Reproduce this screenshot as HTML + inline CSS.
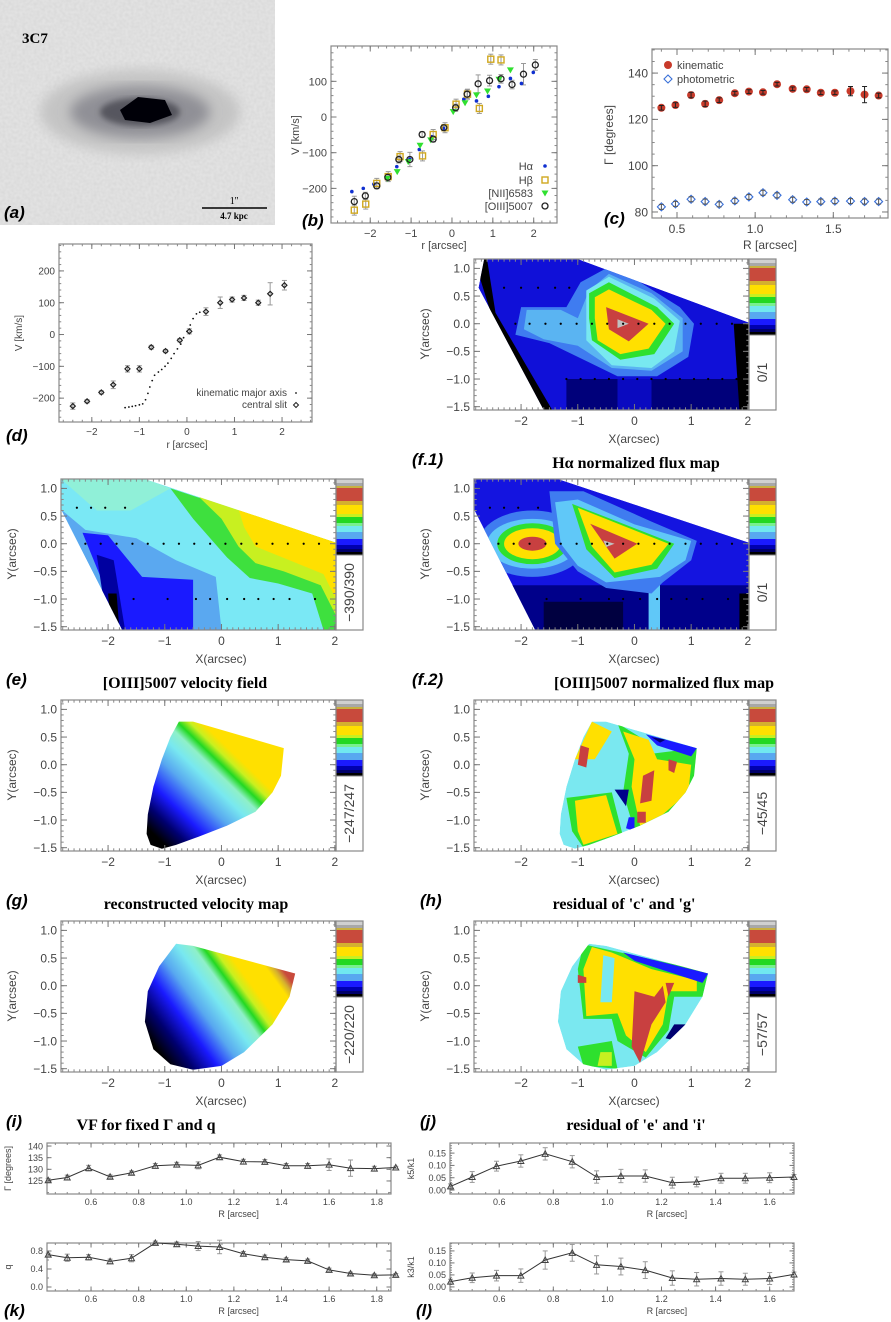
<!DOCTYPE html>
<html><head><meta charset="utf-8"><style>
html,body{margin:0;padding:0;background:#fff;width:891px;height:1322px;overflow:hidden}
svg{display:block}
text{font-family:"Liberation Sans",sans-serif;fill:#444}
.ttl{font-family:"Liberation Serif",serif;font-weight:bold;font-size:16px;fill:#000}
.pl{font-family:"Liberation Sans",sans-serif;font-weight:bold;font-style:italic;font-size:17px;fill:#000}
</style></head><body>
<svg id="fig" width="891" height="1322" viewBox="0 0 891 1322" xmlns="http://www.w3.org/2000/svg">
<defs>
<filter id="blur4"><feGaussianBlur stdDeviation="6"/></filter>
<filter id="blur2"><feGaussianBlur stdDeviation="3"/></filter>
<filter id="noise" x="0" y="0" width="100%" height="100%"><feTurbulence type="fractalNoise" baseFrequency="0.35" numOctaves="1" seed="3"/><feColorMatrix type="matrix" values="0 0 0 0 0.5  0 0 0 0 0.5  0 0 0 0 0.5  1.2 0 0 0 -0.35"/></filter>
</defs>
<g>
<rect x="0" y="0" width="275" height="225" fill="#e2e2e2"/>
<rect x="0" y="0" width="275" height="225" filter="url(#noise)" opacity="0.35"/>
<ellipse cx="140" cy="112" rx="100" ry="42" fill="#c4c4c4" filter="url(#blur4)"/>
<ellipse cx="140" cy="112" rx="70" ry="26" fill="#909096" filter="url(#blur4)"/>
<ellipse cx="140" cy="112" rx="40" ry="14" fill="#56565e" filter="url(#blur2)"/>
<polygon points="120,110 138,97 165,100 172,115 150,123 125,120" fill="#000008"/>
<text x="22" y="43" style="font-family:'Liberation Serif',serif;font-weight:bold;font-size:15px;fill:#000">3C7</text>
<line x1="202" y1="208" x2="267" y2="208" stroke="#000" stroke-width="1.5"/>
<text x="234" y="204" text-anchor="middle" style="font-family:'Liberation Serif',serif;font-size:10px;fill:#000">1''</text>
<text x="234" y="219" text-anchor="middle" style="font-family:'Liberation Serif',serif;font-weight:bold;font-size:9px;fill:#000">4.7 kpc</text>
<text x="4" y="218" class="pl">(a)</text>
</g>
</svg>
<script>
// ---------- data ----------
const bHaR=[-2.45,-2.17,-1.91,-1.35,-1.03,-0.8,-0.5,-0.21,0.29,0.6,0.89,1.15,1.43,1.7,1.99];
const bHaV=[-209,-200,-188,-139,-118,-91,-55,-32,50,45,58,85,108,94,125];
const bHbR=[-2.39,-2.11,-1.84,-1.56,-1.27,-0.72,-0.46,-0.17,0.1,0.38,0.67,0.95,1.2];
const bHbV=[-261,-244,-186,-167,-111,-109,-49,-30,36,64,24,162,160];
const bNiiR=[-1.58,-1.34,-1.07,-0.78,-0.52,0.03,0.32,0.6,0.87,1.15,1.43];
const bNiiV=[-172,-153,-125,-79,-64,15,40,62,73,106,132];
const bOiiiR=[-2.39,-2.12,-1.84,-1.57,-1.3,-1.03,-0.73,-0.46,-0.2,0.09,0.37,0.64,0.92,1.2,1.47,1.75,2.04];
const bOiiiV=[-237,-221,-193,-169,-119,-119,-49,-62,-30,26,64,93,102,107,91,120,146];
const bOiiiErr=[15,10,8,10,10,20,8,8,5,10,12,25,15,12,12,30,15];
const cR=[0.4,0.49,0.59,0.68,0.77,0.87,0.96,1.05,1.14,1.24,1.33,1.42,1.51,1.61,1.7,1.79];
const cKin=[125,126.2,130.5,126.7,128.3,131.3,132,131.7,135.2,133.2,133,131.5,131.5,132.2,130.7,130.3];
const cKinErr=[1,1,1.2,1.2,1,0.8,0.8,0.8,0.8,0.8,0.8,0.8,0.8,2,3.5,1];
const cPhot=[82.2,83.5,85.5,84.5,83.3,84.8,86.5,88.3,87.2,85.3,84.3,84.5,84.7,84.7,84.5,84.5];
const dSlitR=[-2.4,-2.1,-1.8,-1.55,-1.25,-1.0,-0.75,-0.45,-0.15,0.05,0.4,0.7,0.95,1.2,1.5,1.75,2.05];
const dSlitV=[-225,-210,-182,-158,-108,-108,-40,-52,-18,10,72,100,110,115,100,128,155];
const dSlitErr=[10,5,5,12,10,10,6,5,5,8,12,18,8,8,8,35,15];
const dKinR=[-1.3,-1.22,-1.15,-1.08,-1.0,-0.93,-0.87,-0.82,-0.78,-0.73,-0.68,-0.6,-0.53,-0.46,-0.4,-0.33,-0.27,-0.2,-0.13,-0.07,0.0,0.07,0.13,0.2,0.27];
const dKinV=[-230,-228,-226,-224,-221,-218,-205,-185,-165,-145,-128,-118,-110,-100,-90,-75,-60,-45,-30,-10,10,30,50,65,70];
const kR=[0.42,0.5,0.59,0.68,0.77,0.87,0.96,1.05,1.14,1.24,1.33,1.42,1.51,1.6,1.69,1.79,1.88];
const kGamma=[125.3,126.5,130.5,126.8,128.5,131.5,132,131.7,135.2,133.3,133.2,131.5,131.5,132,130.5,130.3,130.8];
const kGammaErr=[0.8,1,1.2,0.8,0.8,1,1,1.5,1,1,1,1,1,2.5,3.5,1,0.5];
const kQ=[0.72,0.65,0.66,0.57,0.64,0.98,0.95,0.91,0.89,0.74,0.66,0.61,0.58,0.38,0.3,0.26,0.27];
const kQErr=[0.03,0.08,0.06,0.05,0.08,0.04,0.05,0.1,0.15,0.05,0.05,0.04,0.04,0.04,0.03,0.03,0.03];
const lR=[0.42,0.5,0.59,0.68,0.77,0.87,0.96,1.05,1.14,1.24,1.33,1.42,1.51,1.6,1.69];
const lK5=[0.015,0.053,0.097,0.118,0.147,0.115,0.053,0.057,0.057,0.03,0.033,0.048,0.048,0.05,0.053];
const lK5Err=[0.01,0.022,0.02,0.025,0.025,0.025,0.025,0.027,0.025,0.022,0.02,0.02,0.02,0.02,0.01];
const lK3=[0.022,0.038,0.047,0.047,0.112,0.142,0.092,0.085,0.07,0.037,0.032,0.035,0.032,0.035,0.052];
const lK3Err=[0.01,0.02,0.022,0.028,0.038,0.035,0.038,0.035,0.035,0.03,0.028,0.028,0.025,0.025,0.01];

// ---------- helpers ----------
const NS='http://www.w3.org/2000/svg';
const svg=document.getElementById('fig');
function mk(tag,attrs,parent){const e=document.createElementNS(NS,tag);for(const k in attrs)e.setAttribute(k,attrs[k]);(parent||svg).appendChild(e);return e;}
function txt(s,x,y,attrs,parent){const t=mk('text',Object.assign({x:x,y:y},attrs),parent);t.textContent=s;return t;}
function fmt(v,d){return (v<0?'\u2212':'')+Math.abs(v).toFixed(d);}

function axes(name,L,T,R,B,x0,x1,y0,y1,xt,yt,xd,yd,fs,xmin,ymin,xlabOff){
  const g=mk('g',{});
  
  
  const sx=v=>L+(v-x0)/(x1-x0)*(R-L), sy=v=>B-(v-y0)/(y1-y0)*(B-T);
  mk('rect',{x:L,y:T,width:R-L,height:B-T,fill:'none',stroke:'#888','stroke-width':1.2},g);
  const tl=fs*0.5;
  if(xmin){for(let v=Math.ceil(x0/xmin)*xmin;v<=x1;v+=xmin){const x=sx(v);mk('line',{x1:x,y1:B,x2:x,y2:B-tl*0.45,stroke:'#888'},g);mk('line',{x1:x,y1:T,x2:x,y2:T+tl*0.45,stroke:'#888'},g);}}
  if(ymin){for(let v=Math.ceil(y0/ymin)*ymin;v<=y1;v+=ymin){const y=sy(v);mk('line',{x1:L,y1:y,x2:L+tl*0.45,y2:y,stroke:'#888'},g);mk('line',{x1:R,y1:y,x2:R-tl*0.45,y2:y,stroke:'#888'},g);}}
  const off=xlabOff||(fs+3);
  xt.forEach(v=>{const x=sx(v);mk('line',{x1:x,y1:B,x2:x,y2:B-tl,stroke:'#777'},g);mk('line',{x1:x,y1:T,x2:x,y2:T+tl,stroke:'#777'},g);
    const t=txt(fmt(v,xd),x,B+off,{'text-anchor':'middle','font-size':fs},g);
    
    });
  yt.forEach(v=>{const y=sy(v);mk('line',{x1:L,y1:y,x2:L+tl,y2:y,stroke:'#777'},g);mk('line',{x1:R,y1:y,x2:R-tl,y2:y,stroke:'#777'},g);
    const t=txt(fmt(v,yd),L-4,y+fs*0.36,{'text-anchor':'end','font-size':fs},g);
    
    });
  return {g,sx,sy};
}
function vlabel(s,x,y,fs,name){const t=txt(s,x,y,{'text-anchor':'middle','font-size':fs,transform:'rotate(-90 '+x+' '+y+')'});
  
  return t;}
function hlabel(s,x,y,fs,name){const t=txt(s,x,y,{'text-anchor':'middle','font-size':fs});
  
  return t;}
function plabel(s,x,y,name){const t=txt(s,x,y,{class:'pl'});
  
  }
function err(g,x,y1,y2,col){mk('line',{x1:x,y1:y1,x2:x,y2:y2,stroke:col||'#999'},g);mk('line',{x1:x-2.5,y1:y1,x2:x+2.5,y2:y1,stroke:col||'#999'},g);mk('line',{x1:x-2.5,y1:y2,x2:x+2.5,y2:y2,stroke:col||'#999'},g);}

// ---------- panel b ----------
(function(){
  const a=axes('panel-b-axes',331,46,557,223,-2.96,2.57,-297,199,[-2,-1,0,1,2],[-200,-100,0,100],0,0,11,0.2,20);
  vlabel('V [km/s]',299,135,11,'y-axis-title-b');
  hlabel('r [arcsec]',444,249,11,'x-axis-title-b');
  plabel('(b)',302,226,'panel-label-b');
  const g=mk('g',{});
  
  
  bOiiiR.forEach((r,i)=>{err(g,a.sx(r),a.sy(bOiiiV[i]+bOiiiErr[i]),a.sy(bOiiiV[i]-bOiiiErr[i]));});
  bHbR.forEach((r,i)=>{err(g,a.sx(r),a.sy(bHbV[i]+14),a.sy(bHbV[i]-14));});
  bHaR.forEach((r,i)=>{const p=mk('circle',{cx:a.sx(r),cy:a.sy(bHaV[i]),r:1.8,fill:'#1030d0'},g);
    
    });
  bHbR.forEach((r,i)=>{const p=mk('rect',{x:a.sx(r)-3,y:a.sy(bHbV[i])-3,width:6,height:6,fill:'none',stroke:'#d0a820','stroke-width':1.4},g);
    
    });
  bNiiR.forEach((r,i)=>{const x=a.sx(r),y=a.sy(bNiiV[i]);const p=mk('polygon',{points:(x-3.5)+','+(y-2.5)+' '+(x+3.5)+','+(y-2.5)+' '+x+','+(y+3.5),fill:'#30e030'},g);
    
    });
  bOiiiR.forEach((r,i)=>{const p=mk('circle',{cx:a.sx(r),cy:a.sy(bOiiiV[i]),r:3,fill:'none',stroke:'#222','stroke-width':1.3},g);
    
    });
  const leg=mk('g',{});
  
  
  txt('H\u03b1',533,170,{'text-anchor':'end','font-size':11},leg);
  mk('circle',{cx:545,cy:166,r:1.8,fill:'#1030d0'},leg);
  txt('H\u03b2',533,184,{'text-anchor':'end','font-size':11},leg);
  mk('rect',{x:542,y:177,width:6,height:6,fill:'none',stroke:'#d0a820','stroke-width':1.4},leg);
  txt('[NII]6583',533,197,{'text-anchor':'end','font-size':11},leg);
  mk('polygon',{points:'541.5,190.5 548.5,190.5 545,196.5',fill:'#30e030'},leg);
  txt('[OIII]5007',533,210,{'text-anchor':'end','font-size':11},leg);
  mk('circle',{cx:545,cy:206,r:3,fill:'none',stroke:'#222','stroke-width':1.3},leg);
})();

// ---------- panel c ----------
(function(){
  const a=axes('panel-c-axes',652,49,888,218,0.34,1.85,77.4,150.4,[0.5,1.0,1.5],[80,100,120,140],1,0,12,0.1,5);
  vlabel('\u0393 [degrees]',613,135,12,'y-axis-title-c');
  hlabel('R [arcsec]',770,249,12,'x-axis-title-c');
  plabel('(c)',604,224,'panel-label-c');
  const g=mk('g',{});
  
  
  cR.forEach((r,i)=>{const p=mk('circle',{cx:a.sx(r),cy:a.sy(cKin[i]),r:4,fill:'#c83a2a'},g);
    
    
    err(g,a.sx(r),a.sy(cKin[i]+cKinErr[i]),a.sy(cKin[i]-cKinErr[i]),'#222');});
  cR.forEach((r,i)=>{const x=a.sx(r),y=a.sy(cPhot[i]);const p=mk('polygon',{points:x+','+(y-4)+' '+(x+4)+','+y+' '+x+','+(y+4)+' '+(x-4)+','+y,fill:'none',stroke:'#3a70d8','stroke-width':1.1},g);
    
    
    err(g,x,y-2.5,y+2.5,'#555');});
  const leg=mk('g',{});
  
  
  mk('circle',{cx:668,cy:65,r:4,fill:'#c83a2a'},leg);
  txt('kinematic',677,69,{'font-size':11},leg);
  mk('polygon',{points:'668,75 672,79 668,83 664,79',fill:'none',stroke:'#3a70d8','stroke-width':1.1},leg);
  txt('photometric',677,83,{'font-size':11},leg);
})();

// ---------- panel d ----------
(function(){
  const a=axes('panel-d-axes',59,244,312,422,-2.69,2.63,-275,284.6,[-2,-1,0,1,2],[-200,-100,0,100,200],0,0,10,0.2,20);
  vlabel('V [km/s]',22,333,10,'y-axis-title-d');
  hlabel('r [arcsec]',187,448,10,'x-axis-title-d');
  plabel('(d)',6,441,'panel-label-d');
  const g=mk('g',{});
  
  
  dKinR.forEach((r,i)=>{const p=mk('circle',{cx:a.sx(r),cy:a.sy(dKinV[i]),r:0.9,fill:'#111'},g);
    
    });
  dSlitR.forEach((r,i)=>{const x=a.sx(r),y=a.sy(dSlitV[i]);err(g,x,a.sy(dSlitV[i]+dSlitErr[i]),a.sy(dSlitV[i]-dSlitErr[i]));
    const p=mk('polygon',{points:x+','+(y-2.5)+' '+(x+2.5)+','+y+' '+x+','+(y+2.5)+' '+(x-2.5)+','+y,fill:'none',stroke:'#222','stroke-width':1.2},g);
    
    });
  const leg=mk('g',{});
  
  
  txt('kinematic major axis',287,396,{'text-anchor':'end','font-size':10},leg);
  mk('circle',{cx:296,cy:393,r:0.9,fill:'#111'},leg);
  txt('central slit',287,408,{'text-anchor':'end','font-size':10},leg);
  mk('polygon',{points:'296,402.5 298.5,405 296,407.5 293.5,405',fill:'none',stroke:'#222'},leg);
})();

// ---------- map panels ----------
const CB=[['#d0d0d0',4],['#a8a8a8',3],['#c8b040',2],['#c84a3c',13],['#d4b030',4],['#ffe000',9],['#c8f020',3],['#22d822',6],['#78f090',3],['#70e8f0',6],['#58a8f0',7],['#1a1aff',6],['#0000b0',4],['#00006a',3],['#000',3]];
let clipId=0;
function mapPanel(name,L,T,lab,labX,title,titleX,cbText,draw){
  const R=L+275,B=T+151;
  const g=mk('g',{});
  
  
  const X=v=>L+(v+2.83)/4.85*275, Y=v=>T+(1.17-v)/2.73*151;
  const P=pts=>pts.map(p=>X(p[0]).toFixed(1)+','+Y(p[1]).toFixed(1)).join(' ');
  const id='clip'+(clipId++);
  const cp=mk('clipPath',{id:id},g);
  mk('rect',{x:L,y:T,width:275,height:151},cp);
  const content=mk('g',{'clip-path':'url(#'+id+')'},g);
  
  
  draw(content,X,Y,P);
  axes(name+'-axes',L,T,R,B,-2.83,2.02,-1.56,1.17,[-2,-1,0,1,2],[-1.5,-1.0,-0.5,0.0,0.5,1.0],0,1,12,0.1,0.1);
  vlabel('Y(arcsec)',L-45,T+75,12,'y-axis-title');
  hlabel('X(arcsec)',L+160,T+184,12,'x-axis-title');
  const cb=mk('g',{});
  
  
  let y=T;CB.forEach(c=>{mk('rect',{x:R,y:y,width:27,height:c[1]+0.3,fill:c[0]},cb);y+=c[1];});
  mk('rect',{x:R,y:T,width:27,height:151,fill:'none',stroke:'#888','stroke-width':1.2},cb);
  mk('line',{x1:R,y1:y,x2:R+27,y2:y,stroke:'#888'},cb);
  const cx=R+18,cy=(y+B)/2;
  const ct=txt(cbText,cx,cy,{'text-anchor':'middle','font-size':14,transform:'rotate(-90 '+cx+' '+cy+')'},cb);
  
  
  plabel(lab,labX,T+206,'panel-label');
  const tt=txt(title,titleX,T+209,{class:'ttl','text-anchor':'middle'});
  
  
}
function poly(g,P,pts,fill){return mk('polygon',{points:P(pts),fill:fill},g);}
function dots(g,X,Y,rows){rows.forEach(r=>r[1].forEach(x=>mk('circle',{cx:X(x),cy:Y(r[0]),r:1.1,fill:'#000'},g)));}
const DOM=[[-2.83,1.17],[-1.35,1.17],[2.02,0.02],[2.02,-1.56],[-1.75,-1.56],[-2.83,0.62]];
const DOMF=[[-2.65,1.17],[-1.0,1.17],[2.02,0.02],[2.02,-1.56],[-1.6,-1.56],[-2.75,0.65]];
const DOTROWS=[[0.65,[-2.55,-2.3,-2.05,-1.7]],[0,[-2.4,-2.13,-1.85,-1.57,-1.3,-1.02,-0.75,-0.48,-0.2,0.07,0.35,0.62,0.9,1.17,1.45,1.72]],[-1,[-1.55,-0.95,-0.45,-0.2,0.1,0.4,0.65,0.92,1.2,1.65]]];

mapPanel('panel-e-velocity-field',61,479,'(e)',6,'[OIII]5007 velocity field',185,'\u2212390/390',(g,X,Y,P)=>{
  const c=mk('clipPath',{id:'de'},g);poly(c,P,DOM,'#000');
  const h=mk('g',{'clip-path':'url(#de)'},g);
  poly(h,P,DOM,'#7ae8f5');
  poly(h,P,[[-2.83,1.17],[-1.35,1.17],[-0.9,1.0],[-1.6,0.6],[-2.2,0.6]],'#90f0d8');
  poly(h,P,[[-0.9,1.0],[2.02,0.02],[2.02,-1.56],[1.8,-1.56],[1.6,-0.9],[1.0,-0.72],[0.5,-0.62],[0.1,-0.25],[-0.5,0.45]],'#3ee03e');
  poly(h,P,[[-0.4,0.85],[2.02,0.02],[2.02,-1.3],[1.75,-0.75],[1.1,-0.5],[0.6,-0.35],[0.3,-0.05],[0.0,0.45]],'#c8f020');
  poly(h,P,[[0.3,0.62],[2.02,0.02],[2.02,-1.0],[1.8,-0.55],[1.2,-0.3],[0.6,-0.05],[0.4,0.3]],'#ffe000');
  poly(h,P,[[-2.83,0.62],[-2.4,0.25],[-1.5,0.1],[-0.8,-0.3],[-0.1,-0.6],[0.0,-1.56],[-1.75,-1.56]],'#5aa8f0');
  poly(h,P,[[-2.45,0.2],[-2.0,0.15],[-1.4,-0.6],[-0.5,-0.65],[-0.5,-1.56],[-1.75,-1.56]],'#1a1aff');
  poly(h,P,[[-2.2,-0.2],[-1.9,-0.3],[-1.7,-1.56],[-2.0,-1.56]],'#0000a0');
  poly(h,P,[[-2.0,-0.9],[-1.85,-0.9],[-1.8,-1.56],[-1.95,-1.56]],'#000');
  dots(h,X,Y,DOTROWS);
});
mapPanel('panel-f1-halpha-flux',474,259,'(f.1)',412,'H\u03b1 normalized flux map',636,'0/1',(g,X,Y,P)=>{
  const c=mk('clipPath',{id:'df1'},g);poly(c,P,DOMF,'#000');
  const h=mk('g',{'clip-path':'url(#df1)'},g);
  poly(h,P,DOMF,'#1010d8');
  poly(h,P,[[-2.83,1.17],[-2.6,1.17],[-2.45,0.2],[-1.45,-1.56],[-2.0,-1.56]],'#000');
  poly(h,P,[[-1.2,-1.0],[2.02,-1.0],[2.02,-1.56],[-1.2,-1.56]],'#00007a');
  poly(h,P,[[1.75,0.0],[2.02,0.0],[2.02,-1.56],[1.85,-1.56]],'#000');
  poly(h,P,[[-0.3,-1.0],[0.3,-1.0],[0.3,-1.56],[-0.3,-1.56]],'#0a0ac0');
  poly(h,P,[[-2.0,0.3],[-1.2,0.3],[-0.95,0.75],[-0.5,1.0],[0.1,0.75],[0.8,0.3],[1.05,0.0],[0.95,-0.6],[0.4,-0.95],[-0.3,-0.95],[-0.8,-0.7],[-1.5,-0.35],[-2.1,-0.2]],'#3f7cf0');
  poly(h,P,[[-1.9,0.25],[-1.3,0.25],[-1.0,0.1],[-0.8,0.6],[-0.45,0.9],[0.3,0.55],[0.85,0.1],[0.85,-0.5],[0.3,-0.85],[-0.4,-0.8],[-1.0,-0.4],[-1.6,-0.28],[-1.95,-0.1]],'#5ab4f2');
  poly(h,P,[[-0.85,0.6],[-0.45,0.85],[0.35,0.45],[0.8,0.05],[0.7,-0.5],[0.3,-0.8],[-0.4,-0.75],[-0.85,-0.3]],'#78e8f0');
  poly(h,P,[[-0.8,0.55],[-0.45,0.75],[0.4,0.3],[0.7,0.0],[0.35,-0.55],[-0.25,-0.65],[-0.75,-0.3],[-0.8,0.1]],'#2ee02e');
  poly(h,P,[[-0.7,0.48],[-0.45,0.62],[0.3,0.25],[0.55,0.0],[0.25,-0.45],[-0.25,-0.55],[-0.65,-0.3],[-0.7,0.1]],'#ffe000');
  poly(h,P,[[-0.5,0.3],[0.25,0.0],[-0.1,-0.32],[-0.45,-0.1]],'#c84040');
  poly(h,P,[[-0.3,0.08],[-0.1,0],[-0.3,-0.08]],'#c0c0c0');
  dots(h,X,Y,[[0.65,[-2.3,-2.0,-1.7,-1.4,-1.15]],[0,[-2.1,-1.85,-1.57,-1.3,-1.02,-0.75,-0.48,-0.2,0.07,0.35,0.62,0.9,1.17,1.45,1.72]],[-1,[-1.2,-0.95,-0.7,-0.45,-0.2,0.05,0.3,0.55,0.8,1.05,1.3,1.55,1.8]]]);
});
mapPanel('panel-f2-oiii-flux',474,479,'(f.2)',412,'[OIII]5007 normalized flux map',664,'0/1',(g,X,Y,P)=>{
  const c=mk('clipPath',{id:'df2'},g);poly(c,P,DOM,'#000');
  const h=mk('g',{'clip-path':'url(#df2)'},g);
  poly(h,P,DOM,'#1414e0');
  poly(h,P,[[-2.2,-0.75],[2.02,-0.75],[2.02,-1.56],[-2.2,-1.56]],'#00008a');
  poly(h,P,[[-1.6,-1.05],[-0.2,-1.05],[-0.2,-1.56],[-1.6,-1.56]],'#000040');
  poly(h,P,[[1.85,-0.9],[2.02,-0.9],[2.02,-1.56],[1.85,-1.56]],'#000');
  poly(h,P,[[0.25,-0.6],[0.45,-0.6],[0.45,-1.56],[0.25,-1.56]],'#60c8f8');
  [['#3f7cf0',0.95,0.6],['#60c8f8',0.8,0.45],['#2ee02e',0.62,0.37],['#ffe000',0.5,0.28]].forEach(e=>mk('ellipse',{cx:X(-1.8),cy:Y(0),rx:e[1]*56.7,ry:e[2]*55.3,fill:e[0]},h));
  mk('ellipse',{cx:X(-1.8),cy:Y(0),rx:14,ry:7,fill:'#c84040'},h);
  poly(h,P,[[-1.5,0.95],[-0.9,0.95],[0.3,0.4],[1.1,0.05],[1.0,-0.3],[0.5,-0.7],[0.3,-0.9],[-0.5,-0.8],[-1.0,-0.5],[-1.4,0.0]],'#3f7cf0');
  poly(h,P,[[-1.4,0.75],[-1.0,0.8],[0,0.35],[1.0,0.05],[0.9,-0.3],[0.45,-0.6],[-0.5,-0.7],[-1.0,-0.4],[-1.3,0]],'#60c8f8');
  poly(h,P,[[-1.1,0.72],[0.7,0.0],[0.4,-0.45],[-0.35,-0.62],[-0.85,-0.1]],'#2ee02e');
  poly(h,P,[[-1.0,0.65],[0.6,0.0],[0.3,-0.38],[-0.35,-0.52],[-0.75,-0.05]],'#ffe000');
  poly(h,P,[[-0.78,0.36],[0.05,0.0],[-0.35,-0.27]],'#c84040');
  poly(h,P,[[-0.55,0.06],[-0.35,0],[-0.5,-0.06]],'#c0c0c0');
  dots(h,X,Y,DOTROWS);
});
const GDOM=[[-0.75,0.78],[-0.5,0.78],[1.1,0.3],[1.05,-0.2],[0.9,-0.5],[0.6,-0.85],[0.1,-1.1],[-0.4,-1.3],[-0.8,-1.45],[-1.05,-1.52],[-1.25,-1.45],[-1.32,-1.25],[-1.3,-0.9],[-1.2,-0.4],[-1.05,0.1],[-0.9,0.5]];
const IDOM=[[-0.8,0.76],[-0.5,0.72],[1.3,0.22],[1.2,-0.2],[0.9,-0.7],[0.4,-1.2],[0.0,-1.45],[-0.5,-1.52],[-0.9,-1.42],[-1.2,-1.15],[-1.35,-0.65],[-1.3,-0.1],[-1.1,0.35]];
function grad(g,id,X,Y,a,b,stops){const lg=mk('linearGradient',{id:id,gradientUnits:'userSpaceOnUse',x1:X(a[0]),y1:Y(a[1]),x2:X(b[0]),y2:Y(b[1])},g);stops.forEach(s=>mk('stop',{offset:s[0],'stop-color':s[1]},lg));}
mapPanel('panel-g-reconstructed-velocity',61,700,'(g)',6,'reconstructed velocity map',196,'\u2212247/247',(g,X,Y,P)=>{
  grad(g,'gg',X,Y,[-1.2,-1.25],[0.5,0.55],[[0,'#000'],[0.12,'#000070'],[0.25,'#1a1aff'],[0.42,'#58a8f0'],[0.55,'#78e8f0'],[0.64,'#8ff0c8'],[0.7,'#22d822'],[0.76,'#c8f020'],[0.82,'#ffe000'],[1,'#ffe000']]);
  poly(g,P,GDOM,'url(#gg)');
});
mapPanel('panel-h-residual-c-g',474,700,'(h)',420,"residual of 'c' and 'g'",624,'\u221245/45',(g,X,Y,P)=>{
  const c=mk('clipPath',{id:'dh'},g);poly(c,P,GDOM,'#000');
  const h=mk('g',{'clip-path':'url(#dh)'},g);
  poly(h,P,GDOM,'#7ae8f0');
  poly(h,P,[[-0.3,0.75],[0.1,0.5],[0.3,0.2],[1.1,0.3],[1.1,-0.5],[0.6,-0.9],[0.0,-1.2],[-0.2,-0.5],[-0.1,0.2]],'#2ee02e');
  poly(h,P,[[-0.2,0.6],[0.25,0.45],[0.4,0.1],[1.0,0.0],[0.95,-0.5],[0.5,-0.9],[0.1,-1.1],[-0.05,-0.4],[0.0,0.1]],'#ffe000');
  poly(h,P,[[-1.2,-0.6],[-0.4,-0.5],[-0.2,-1.3],[-0.9,-1.5],[-1.1,-1.2]],'#2ee02e');
  poly(h,P,[[-1.05,-0.65],[-0.5,-0.55],[-0.3,-1.25],[-0.9,-1.45],[-1.0,-1.2]],'#ffe000');
  poly(h,P,[[-0.75,0.78],[-0.4,0.6],[-0.7,0.1],[-1.05,0.1]],'#ffe000');
  poly(h,P,[[-0.95,0.35],[-0.8,0.3],[-0.85,-0.05],[-1.0,0.0]],'#c84040');
  poly(h,P,[[0.15,-0.2],[0.35,-0.1],[0.3,-0.65],[0.1,-0.7]],'#c84040');
  poly(h,P,[[0.6,0.1],[0.75,0.05],[0.7,-0.15],[0.6,-0.1]],'#c84040');
  poly(h,P,[[0.05,-0.85],[0.2,-0.85],[0.2,-1.05],[0.05,-1.05]],'#c84040');
  poly(h,P,[[0.2,0.55],[1.1,0.3],[1.0,0.15],[0.4,0.35]],'#1a1aff');
  poly(h,P,[[0.3,0.5],[0.55,0.45],[0.45,0.4]],'#000070');
  poly(h,P,[[-0.35,-0.45],[-0.1,-0.45],[-0.15,-0.75]],'#00008a');
  poly(h,P,[[-0.1,-0.95],[0.0,-0.95],[0.0,-1.2],[-0.15,-1.15]],'#1a1aff');
});
mapPanel('panel-i-vf-fixed',61,921,'(i)',6,'VF for fixed \u0393 and q',146,'\u2212220/220',(g,X,Y,P)=>{
  grad(g,'gi',X,Y,[-1.1,-1.2],[1.1,0.45],[[0,'#000'],[0.12,'#000070'],[0.25,'#1a1aff'],[0.38,'#58a8f0'],[0.5,'#78e8f0'],[0.58,'#8ff0c8'],[0.63,'#22d822'],[0.68,'#c8f020'],[0.74,'#ffe000'],[0.88,'#ffe000'],[0.92,'#d4b030'],[0.96,'#c84a3c'],[1,'#c84a3c']]);
  poly(g,P,IDOM,'url(#gi)');
});
mapPanel('panel-j-residual-e-i',474,921,'(j)',420,"residual of 'e' and 'i'",636,'\u221257/57',(g,X,Y,P)=>{
  const c=mk('clipPath',{id:'dj'},g);poly(c,P,IDOM,'#000');
  const h=mk('g',{'clip-path':'url(#dj)'},g);
  poly(h,P,IDOM,'#7ae8f0');
  poly(h,P,[[-0.9,0.75],[1.3,0.25],[1.2,-0.2],[0.7,-0.2],[0.6,-0.8],[0.2,-1.3],[-0.3,-1.0],[-0.4,-0.6],[-0.9,-0.6],[-1.0,0.3]],'#2ee02e');
  poly(h,P,[[-0.75,0.7],[-0.4,0.6],[0.3,0.3],[1.1,0.1],[1.1,-0.1],[0.6,-0.1],[0.5,-0.7],[0.2,-1.2],[-0.15,-0.9],[-0.3,-0.5],[-0.85,-0.55],[-0.9,0.3]],'#ffe000');
  poly(h,P,[[-0.55,0.55],[-0.35,0.5],[-0.4,-0.3],[-0.6,-0.3]],'#78e8f0');
  poly(h,P,[[0.0,-0.1],[0.35,-0.2],[0.5,0.0],[0.55,-0.3],[0.3,-0.7],[0.1,-1.4],[-0.05,-1.1]],'#c84040');
  poly(h,P,[[0.55,0.05],[0.7,0.05],[0.6,-0.2]],'#c84040');
  poly(h,P,[[-0.2,0.6],[1.3,0.22],[1.2,0.05],[0.0,0.45]],'#1a1aff');
  poly(h,P,[[0.7,-0.7],[0.9,-0.7],[0.75,-1.0],[0.55,-0.95]],'#000070');
  poly(h,P,[[-1.0,-1.1],[-0.4,-1.0],[-0.3,-1.5],[-0.9,-1.45]],'#2ee02e');
  poly(h,P,[[-0.6,-1.2],[-0.4,-1.2],[-0.4,-1.45],[-0.65,-1.45]],'#c8f020');
  poly(h,P,[[-1.0,0.2],[-0.85,0.15],[-0.85,0.05],[-1.0,0.05]],'#c84040');
});

// ---------- bottom panels ----------
function linePanel(name,L,T,R,B,x0,x1,y0,y1,xt,yt,yd,R_,V,E,ytitle,ymin){
  const a=axes(name,L,T,R,B,x0,x1,y0,y1,xt,yt,1,yd,9,0.05,ymin,11);
  const g=mk('g',{});
  
  
  R_.forEach((r,i)=>err(g,a.sx(r),a.sy(V[i]+E[i]),a.sy(V[i]-E[i])));
  const ln=mk('polyline',{points:R_.map((r,i)=>a.sx(r).toFixed(1)+','+a.sy(V[i]).toFixed(1)).join(' '),fill:'none',stroke:'#333','stroke-width':1},g);
  
  
  R_.forEach((r,i)=>{const x=a.sx(r),y=a.sy(V[i]);const p=mk('polygon',{points:(x-3)+','+(y+2.5)+' '+(x+3)+','+(y+2.5)+' '+x+','+(y-3),fill:'none',stroke:'#444'},g);
    
    });
  vlabel(ytitle,L-36,(T+B)/2,9,'y-axis-title');
  hlabel('R [arcsec]',a.sx(1.22),B+23,9,'x-axis-title');
}
linePanel('panel-k-gamma',47,1143,391,1194,0.415,1.86,119.4,141.3,[0.6,0.8,1.0,1.2,1.4,1.6,1.8],[125,130,135,140],0,kR,kGamma,kGammaErr,'\u0393 [degrees]',5);
linePanel('panel-k-q',47,1243,391,1291,0.415,1.86,-0.089,0.978,[0.6,0.8,1.0,1.2,1.4,1.6,1.8],[0.0,0.4,0.8],1,kR,kQ,kQErr,'q',0.2);
linePanel('panel-l-k5',450,1143,794,1194,0.418,1.69,-0.016,0.191,[0.6,0.8,1.0,1.2,1.4,1.6],[0,0.05,0.10,0.15],2,lR,lK5,lK5Err,'k5/k1',0.01);
linePanel('panel-l-k3',450,1243,794,1291,0.418,1.69,-0.017,0.183,[0.6,0.8,1.0,1.2,1.4,1.6],[0,0.05,0.10,0.15],2,lR,lK3,lK3Err,'k3/k1',0.01);
plabel('(k)',4,1316,'panel-label-k');
plabel('(l)',416,1316,'panel-label-l');
</script>
</body></html>
